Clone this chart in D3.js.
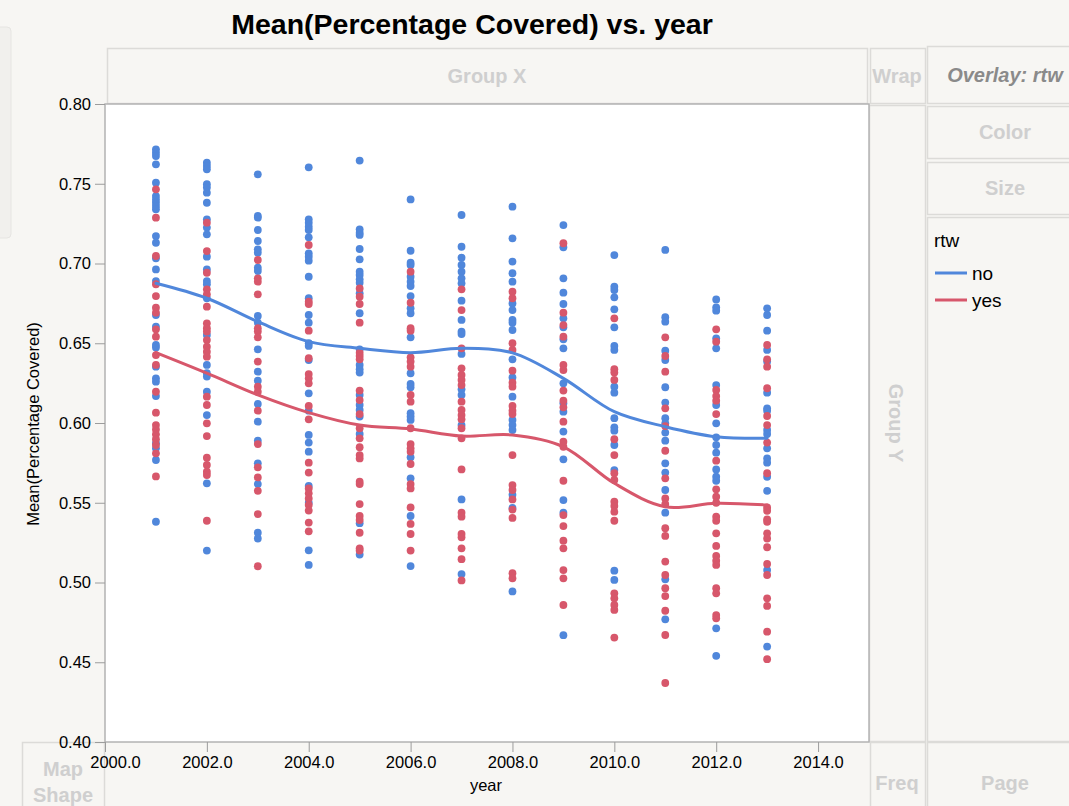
<!DOCTYPE html>
<html>
<head>
<meta charset="utf-8">
<script src="https://cdn.jsdelivr.net/npm/d3@7"></script>
<style>
  html, body { margin: 0; padding: 0; background: #f7f6f3; }
  svg { display: block; font-family: "Liberation Sans", Arial, Helvetica, sans-serif; }
</style>
</head>
<body>
<svg id="chart" width="1069" height="806"></svg>
<script>
// Years on the x axis
const years = [2001, 2002, 2003, 2004, 2005, 2006, 2007, 2008, 2009, 2010, 2011, 2012, 2013];

// Mean(Percentage Covered) per state, rtw = no, one list per year
const noValues = [
  [0.7716,0.7695,0.7674,0.7622,0.7507,0.7423,0.7402,0.7381,0.7360,0.7340,0.7172,0.7130,0.7033,0.6963,0.6890,0.6677,0.6604,0.6489,0.6474,0.6353,0.6280,0.6259,0.6169,0.5873,0.5841,0.5768,0.5381],
  [0.7632,0.7611,0.7591,0.7497,0.7476,0.7444,0.7381,0.7277,0.7225,0.7183,0.7043,0.6963,0.6890,0.6870,0.6782,0.6552,0.6364,0.6312,0.6291,0.6196,0.6050,0.5622,0.5200],
  [0.7559,0.7298,0.7287,0.7210,0.7141,0.7089,0.7068,0.6974,0.6953,0.6671,0.6629,0.6462,0.6322,0.6265,0.6119,0.6008,0.5889,0.5747,0.5617,0.5312,0.5276],
  [0.7603,0.7277,0.7256,0.7231,0.7210,0.7164,0.7064,0.7043,0.7018,0.6917,0.6782,0.6677,0.6629,0.6500,0.6483,0.6395,0.6186,0.6077,0.5925,0.5877,0.5820,0.5605,0.5500,0.5202,0.5110],
  [0.7645,0.7214,0.7193,0.7179,0.7091,0.7026,0.6949,0.6928,0.6901,0.6880,0.6813,0.6688,0.6462,0.6364,0.6337,0.6316,0.6176,0.6113,0.6082,0.6040,0.5931,0.5372,0.5175],
  [0.7402,0.7080,0.7005,0.6991,0.6917,0.6886,0.6859,0.6796,0.6719,0.6688,0.6537,0.6312,0.6245,0.6224,0.6061,0.6040,0.6019,0.5785,0.5653,0.5417,0.5103],
  [0.7304,0.7105,0.7036,0.6991,0.6949,0.6907,0.6876,0.6767,0.6646,0.6573,0.6558,0.6433,0.6211,0.6176,0.5987,0.5521,0.5053],
  [0.7356,0.7158,0.7012,0.6939,0.6886,0.6750,0.6708,0.6646,0.6629,0.6583,0.6399,0.6286,0.6165,0.6019,0.5987,0.5956,0.5550,0.5467,0.4944],
  [0.7241,0.7102,0.6907,0.6817,0.6746,0.6656,0.6600,0.6525,0.6468,0.6249,0.6124,0.6071,0.5946,0.5772,0.5517,0.5438,0.4670],
  [0.7053,0.6855,0.6834,0.6788,0.6713,0.6600,0.6483,0.6458,0.6228,0.6190,0.6030,0.5973,0.5952,0.5862,0.5705,0.5074,0.5016],
  [0.7085,0.6663,0.6635,0.6453,0.6395,0.6224,0.6128,0.6030,0.5998,0.5940,0.5889,0.5747,0.5689,0.5580,0.5438,0.5020,0.4769],
  [0.6775,0.6725,0.6704,0.6531,0.6468,0.6238,0.6113,0.5998,0.5910,0.5862,0.5814,0.5709,0.5663,0.5638,0.4713,0.4540],
  [0.6719,0.6677,0.6579,0.6458,0.6385,0.6190,0.6092,0.6077,0.5956,0.5931,0.5841,0.5778,0.5751,0.5663,0.5575,0.5078,0.4598]
];

// Mean(Percentage Covered) per state, rtw = yes, one list per year
const yesValues = [
  [0.7465,0.7287,0.7047,0.6870,0.6796,0.6723,0.6692,0.6587,0.6541,0.6426,0.6364,0.6196,0.6065,0.5987,0.5960,0.5929,0.5898,0.5862,0.5810,0.5665],
  [0.7256,0.7078,0.6942,0.6838,0.6807,0.6729,0.6625,0.6594,0.6573,0.6520,0.6478,0.6447,0.6416,0.6165,0.6113,0.5998,0.5918,0.5782,0.5737,0.5695,0.5674,0.5387],
  [0.7022,0.6907,0.6886,0.6807,0.6594,0.6573,0.6537,0.6385,0.6228,0.6196,0.6077,0.5868,0.5722,0.5659,0.5575,0.5429,0.5102],
  [0.7116,0.6761,0.6746,0.6579,0.6406,0.6307,0.6280,0.6249,0.6107,0.6023,0.5751,0.5689,0.5590,0.5559,0.5527,0.5486,0.5451,0.5376,0.5321],
  [0.6844,0.6792,0.6746,0.6629,0.6441,0.6420,0.6399,0.6203,0.6144,0.6056,0.5967,0.5904,0.5848,0.5799,0.5778,0.5632,0.5617,0.5492,0.5417,0.5392,0.5312,0.5214,0.5200],
  [0.6949,0.6754,0.6594,0.6579,0.6412,0.6385,0.6353,0.6176,0.6134,0.5967,0.5868,0.5841,0.5820,0.5743,0.5617,0.5590,0.5471,0.5367,0.5304,0.5200],
  [0.6838,0.6708,0.6468,0.6343,0.6301,0.6270,0.6238,0.6134,0.6082,0.6050,0.6023,0.5967,0.5904,0.5709,0.5438,0.5413,0.5304,0.5283,0.5214,0.5146,0.5013],
  [0.6823,0.6782,0.6500,0.6458,0.6328,0.6253,0.6228,0.6107,0.6077,0.6056,0.5799,0.5611,0.5580,0.5521,0.5457,0.5405,0.5058,0.5026],
  [0.7127,0.6692,0.6614,0.6541,0.6364,0.6332,0.6203,0.6140,0.6098,0.6008,0.5883,0.5851,0.5638,0.5423,0.5354,0.5262,0.5214,0.5078,0.5026,0.4859],
  [0.6656,0.6337,0.6316,0.6270,0.5898,0.5799,0.5685,0.5643,0.5507,0.5480,0.5444,0.5387,0.4932,0.4901,0.4859,0.4828,0.4655],
  [0.6537,0.6420,0.6322,0.6092,0.5981,0.5826,0.5653,0.5527,0.5492,0.5340,0.5292,0.5131,0.5047,0.4964,0.4915,0.4823,0.4671,0.4370],
  [0.6587,0.6510,0.6207,0.6169,0.6140,0.6056,0.5764,0.5584,0.5538,0.5500,0.5413,0.5387,0.5308,0.5229,0.5166,0.5137,0.5110,0.4964,0.4932,0.4796,0.4776],
  [0.6489,0.6399,0.6353,0.6218,0.6044,0.5987,0.5877,0.5685,0.5471,0.5450,0.5396,0.5381,0.5308,0.5276,0.5221,0.5116,0.5047,0.4901,0.4853,0.4692,0.4519]
];

// Smoother values at each year
const noTrend  = [0.6876,0.6782,0.6635,0.6510,0.6468,0.6441,0.6468,0.6440,0.6280,0.6071,0.5977,0.5914,0.5904];
const yesTrend = [0.6441,0.6312,0.6176,0.6065,0.5987,0.5962,0.5918,0.5925,0.5851,0.5622,0.5475,0.5497,0.5486];

// Axis ticks
const xTicks = [2000, 2002, 2004, 2006, 2008, 2010, 2012, 2014];
const yTicks = [0.40, 0.45, 0.50, 0.55, 0.60, 0.65, 0.70, 0.75, 0.80];

const seriesNames = ["no", "yes"];
const seriesColors = ["#5087db", "#d7576b"];

const svg = d3.select("#chart");
const plot = { left: 105, top: 104, right: 869, bottom: 742 };

const x = d3.scaleLinear().domain([2000, 2015]).range([plot.left, plot.right]);
const y = d3.scaleLinear().domain([0.40, 0.80]).range([plot.bottom, plot.top]);

const boxStroke = "#dcdbd8";
const ghostText = "#cfcfcf";

// Background
svg.append("rect").attr("width", 1069).attr("height", 806).attr("fill", "#f7f6f3");

// Side tab on the left edge
svg.append("rect").attr("x", -6).attr("y", 27).attr("width", 17).attr("height", 211)
  .attr("rx", 4).attr("fill", "#f1f0ed").attr("stroke", "#e6e5e2");

// Drop-zone boxes of the graph builder
function zone(x0, y0, w, h) {
  svg.append("rect").attr("x", x0 + 0.5).attr("y", y0 + 0.5).attr("width", w).attr("height", h)
    .attr("fill", "#f7f6f3").attr("stroke", boxStroke).attr("stroke-width", 1.5);
}
zone(107, 48, 760, 55);     // Group X
zone(870, 48, 55, 55);      // Wrap
zone(927, 46, 150, 57);     // Overlay
zone(927, 106, 150, 52);    // Color
zone(927, 162, 150, 52);    // Size
zone(869, 105, 56, 636);    // Group Y
zone(927, 217, 150, 524);   // Legend area
zone(22, 742, 82, 80);      // Map Shape
zone(870, 742, 55, 80);     // Freq
zone(927, 742, 150, 80);    // Page

function ghost(txt, cx, cy, size, opts = {}) {
  return svg.append("text").attr("x", cx).attr("y", cy)
    .attr("text-anchor", "middle").attr("dominant-baseline", "central")
    .attr("font-size", size).attr("font-weight", "bold")
    .attr("font-style", opts.italic ? "italic" : "normal")
    .attr("fill", opts.color || ghostText).text(txt);
}
ghost("Group X", 487, 76, 20);
ghost("Wrap", 897, 76, 20);
ghost("Overlay: rtw", 1005, 75, 20, { italic: true, color: "#8a8a8a" });
ghost("Color", 1005, 132, 20);
ghost("Size", 1005, 188, 20);
ghost("Map", 63, 769, 20);
ghost("Shape", 63, 795, 20);
ghost("Freq", 897, 783, 20);
ghost("Page", 1005, 783, 20);
ghost("Group Y", 0, 0, 20).attr("transform", "translate(896,423) rotate(90)");

// Title
svg.append("text").attr("x", 472).attr("y", 34).attr("text-anchor", "middle")
  .attr("font-size", 28.5).attr("font-weight", "bold").attr("fill", "#000")
  .text("Mean(Percentage Covered) vs. year");

// Plot frame
svg.append("rect").attr("x", plot.left).attr("y", plot.top)
  .attr("width", plot.right - plot.left).attr("height", plot.bottom - plot.top)
  .attr("fill", "#ffffff").attr("stroke", "#b3b3b3").attr("stroke-width", 1.5);

// Y axis
const yAxis = svg.append("g").attr("transform", `translate(${plot.left},0)`)
  .call(d3.axisLeft(y).tickValues(yTicks).tickFormat(d3.format(".2f")).tickSize(10).tickPadding(4));
yAxis.select(".domain").remove();
yAxis.selectAll(".tick line").attr("stroke", "#9c9c9c");
yAxis.selectAll(".tick text").attr("font-size", 16.5).attr("fill", "#000")
  .attr("font-family", "Liberation Sans, Arial, sans-serif");

// X axis
const xAxis = svg.append("g").attr("transform", `translate(0,${plot.bottom})`)
  .call(d3.axisBottom(x).tickValues(xTicks).tickFormat(d3.format(".1f")).tickSize(10).tickPadding(4));
xAxis.select(".domain").remove();
xAxis.selectAll(".tick line").attr("stroke", "#9c9c9c");
xAxis.selectAll(".tick text").attr("font-size", 16.5).attr("fill", "#000")
  .attr("font-family", "Liberation Sans, Arial, sans-serif")
  .attr("dx", d => d === xTicks[0] ? 10 : 0);

// Axis titles
svg.append("text").attr("x", 486).attr("y", 791).attr("text-anchor", "middle")
  .attr("font-size", 16.5).attr("fill", "#000").text("year");
svg.append("text").attr("transform", "translate(39,424) rotate(-90)").attr("text-anchor", "middle")
  .attr("font-size", 16.5).attr("fill", "#000").text("Mean(Percentage Covered)");

// Points
const pointGroups = [noValues, yesValues];
pointGroups.forEach((groups, si) => {
  const pts = groups.flatMap((vals, i) => vals.map(v => ({ year: years[i], value: v })));
  svg.append("g").selectAll("circle").data(pts).join("circle")
    .attr("cx", d => x(d.year)).attr("cy", d => y(d.value)).attr("r", 3.9)
    .attr("fill", seriesColors[si]);
});

// Smoother curves
const line = d3.line().x(d => x(d.year)).y(d => y(d.value)).curve(d3.curveCatmullRom.alpha(0.5));
[noTrend, yesTrend].forEach((trend, si) => {
  const pts = trend.map((v, i) => ({ year: years[i], value: v }));
  svg.append("path").datum(pts).attr("d", line)
    .attr("fill", "none").attr("stroke", seriesColors[si]).attr("stroke-width", 3)
    .attr("stroke-linecap", "round").attr("stroke-linejoin", "round");
});

// Legend
svg.append("text").attr("x", 934).attr("y", 247).attr("font-size", 19).attr("fill", "#000").text("rtw");
seriesNames.forEach((name, i) => {
  const ly = 273 + i * 27;
  svg.append("line").attr("x1", 935).attr("x2", 967).attr("y1", ly).attr("y2", ly)
    .attr("stroke", seriesColors[i]).attr("stroke-width", 3);
  svg.append("text").attr("x", 972).attr("y", ly + 7).attr("font-size", 19).attr("fill", "#000").text(name);
});
</script>
</body>
</html>
